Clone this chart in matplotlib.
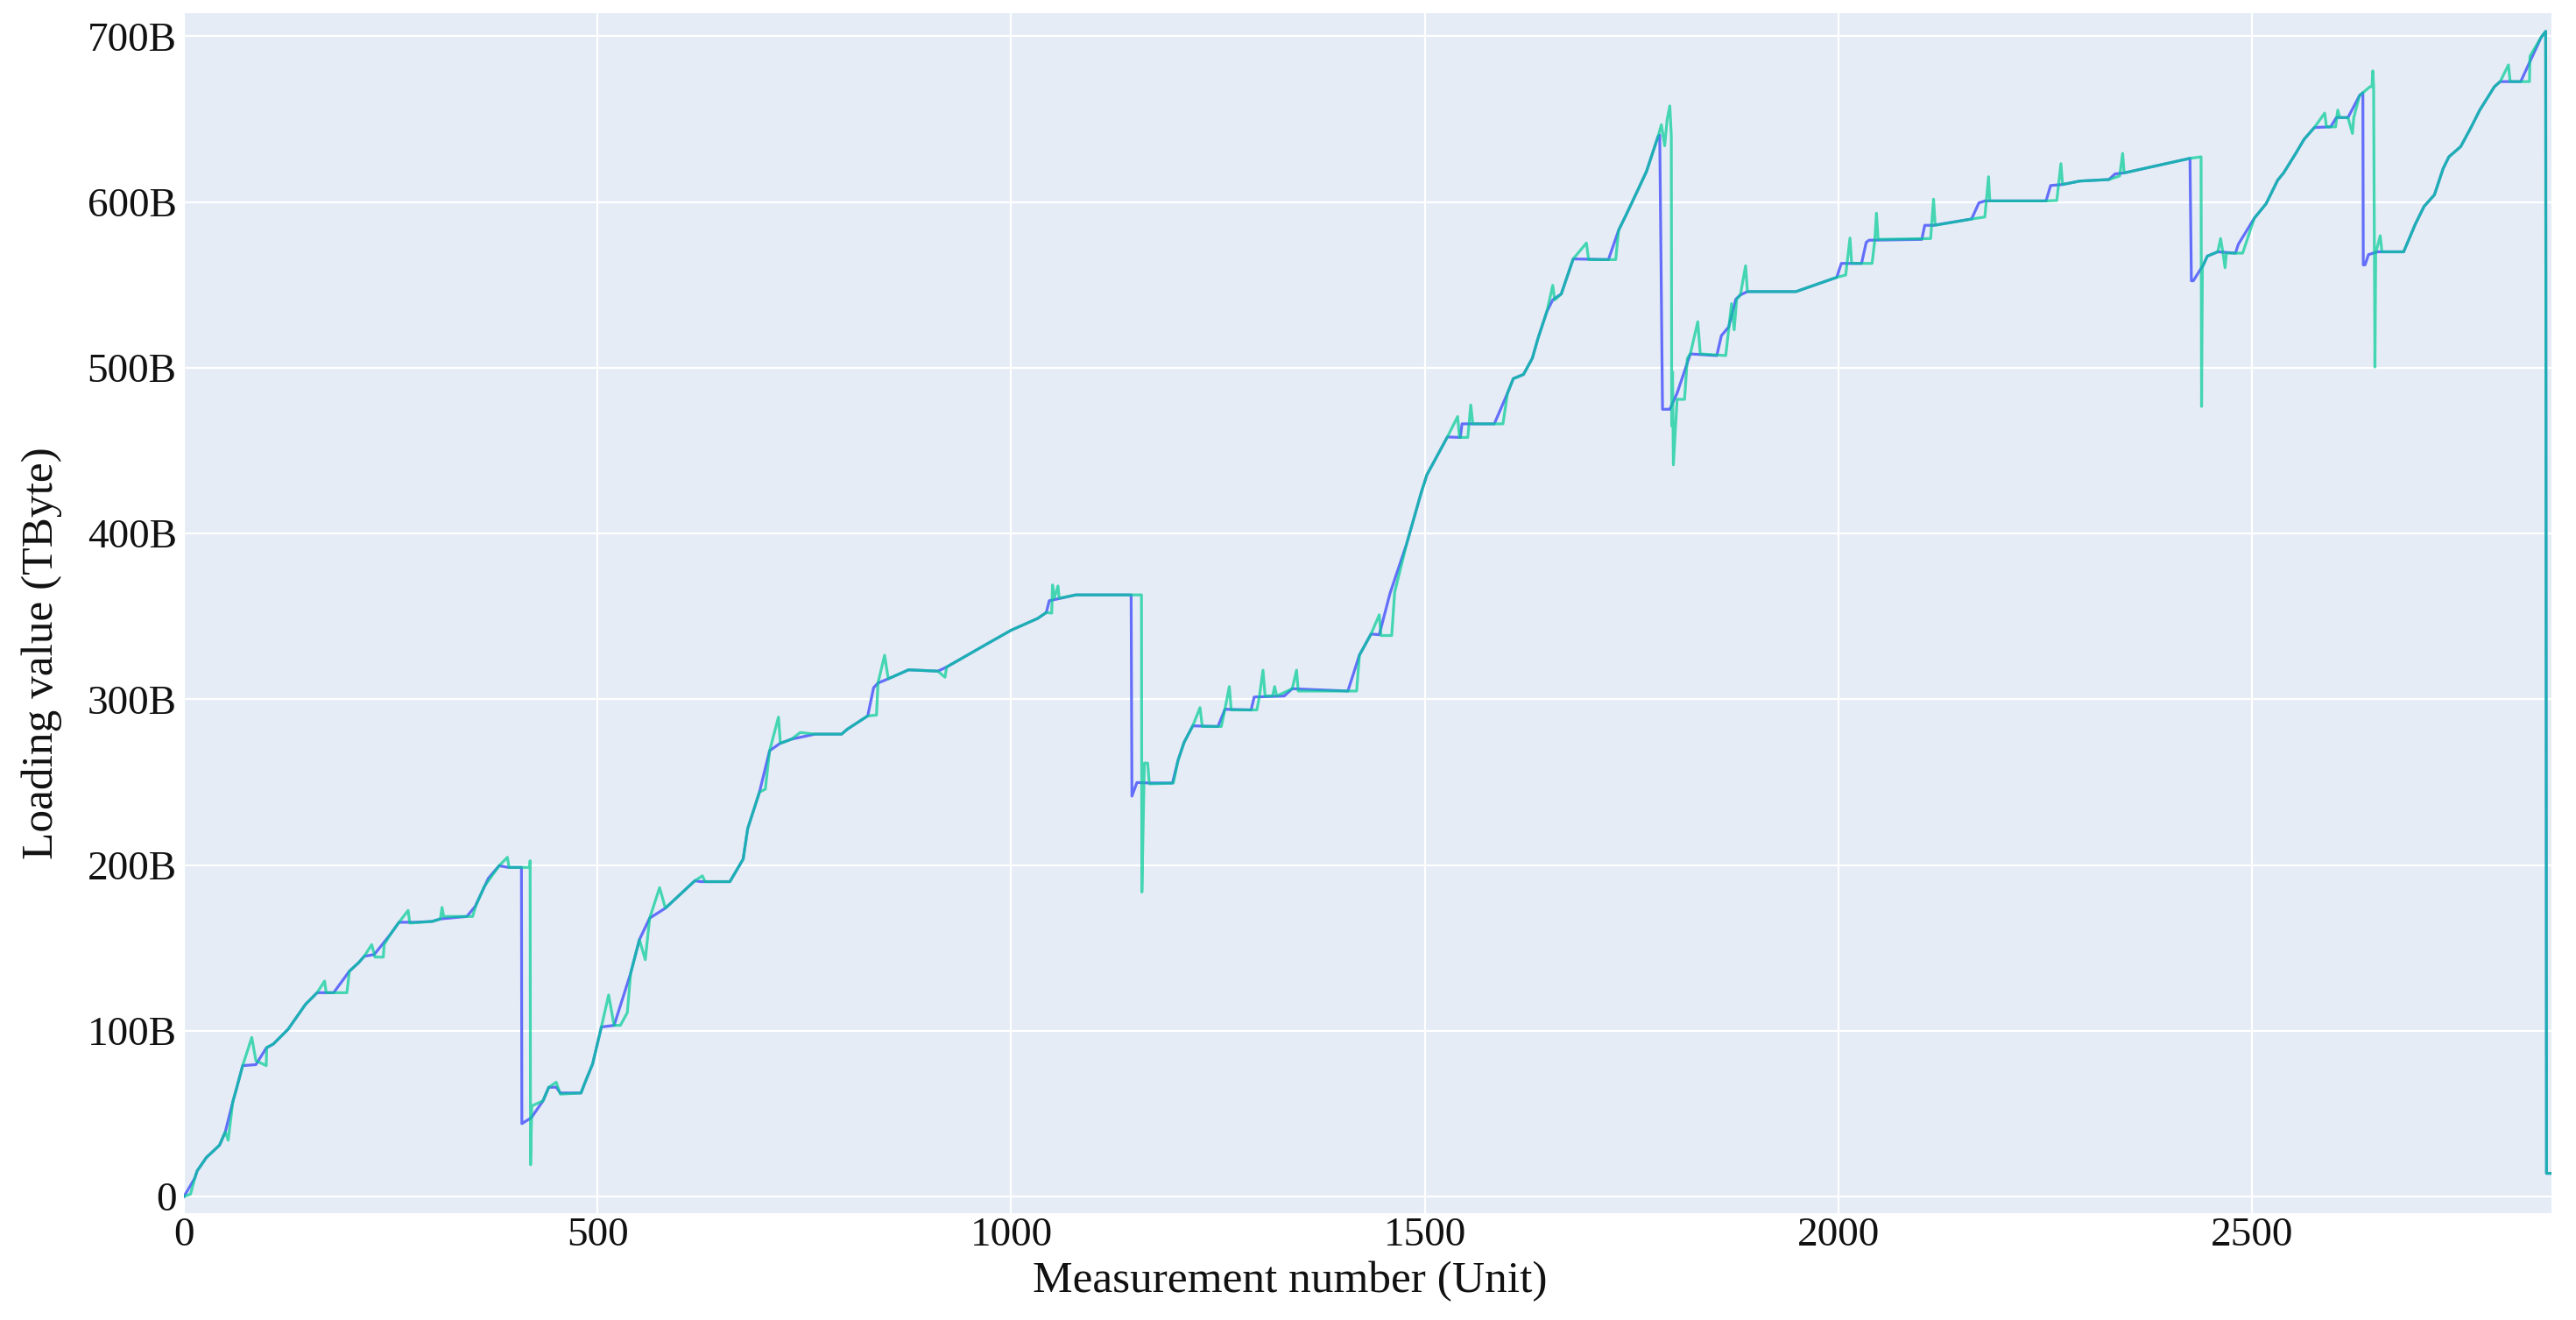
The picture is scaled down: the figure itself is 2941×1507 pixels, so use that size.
import matplotlib
matplotlib.use("Agg")
import matplotlib.pyplot as plt
from matplotlib.ticker import FuncFormatter

# ---- data (values in billions) ----
blue_x = [0, 13, 16, 27, 43, 50, 59, 64, 71, 87, 99.5, 108, 126, 147, 161, 181, 200, 211, 218, 230,
          250, 260, 280, 300, 310, 342, 352, 368, 381, 392, 408, 408.5, 420, 434, 441, 450, 455, 480,
          485, 494, 504.6, 520, 540, 550.6, 563, 582, 617.5, 625, 660, 667, 676, 681.5, 695.7, 708,
          720.5, 734.6, 763, 795, 802, 826.6, 833.7, 839, 851.4, 876, 911.5, 922, 971.7, 1000, 1032,
          1042.5, 1046, 1060, 1078, 1134.5, 1145, 1146, 1152, 1170, 1195, 1201.8, 1209, 1219.5, 1250,
          1258.4, 1290, 1293.8, 1330, 1339.8, 1407, 1421, 1435, 1445, 1458, 1478, 1495.5, 1502.5,
          1527.3, 1543, 1545, 1584, 1600, 1607, 1619.3, 1630, 1637, 1647.6, 1654.7, 1665, 1679.4,
          1722, 1734.3, 1743.1, 1757.3, 1768, 1782, 1784, 1787.4, 1796.2, 1805, 1821, 1853, 1858.5,
          1867.3, 1876, 1881.5, 1890, 1948.7, 1998, 2003.5, 2028, 2033.6, 2037, 2100.8, 2104.4, 2115,
          2161, 2169.8, 2177, 2251, 2256.5, 2270.7, 2292, 2327, 2334.4, 2345.4, 2425, 2426.7, 2429,
          2441, 2446, 2458.6, 2480, 2483.4, 2502.8, 2517, 2531, 2538.2, 2552.4, 2563, 2575.4, 2595,
          2602, 2616, 2630, 2634, 2634.5, 2636.6, 2640.8, 2651.5, 2683.3, 2697.5, 2708, 2720.5, 2731,
          2738, 2752.3, 2764.7, 2775.3, 2793, 2800, 2824.8, 2849.6, 2855, 2856, 2862]
blue_y = [0, 11, 15.5, 23.5, 31, 39, 57, 66, 79, 79.6, 89.6, 92, 101, 116, 123, 123, 136, 141, 145, 146,
          158.5, 165.5, 165.5, 166, 167.5, 169, 175, 192, 199.6, 198.6, 198.6, 44, 47.6, 57.7, 65.9,
          66, 62.5, 62.5, 69, 80, 102.3, 103.3, 134.7, 155, 168, 174, 190.5, 190, 190, 196, 203.6, 222,
          244, 269, 273.4, 276, 279, 279, 282, 290, 307, 309.8, 312.4, 317.8, 317, 319.5, 333.7, 341.7,
          348.8, 352.4, 359.5, 361, 363, 363, 363, 241.6, 249.8, 249.5, 249.5, 263.3, 274, 284, 283.6,
          294, 293.6, 301.4, 302, 306.4, 305, 326.7, 339.4, 339, 364, 393.7, 424.4, 435.4, 458.3, 458,
          466.2, 466.2, 484.7, 493.5, 496, 505.8, 518, 534, 541, 544.6, 565.7, 565.3, 583, 592, 607,
          618.5, 639.6, 640.5, 475, 475, 484.7, 508.4, 507.4, 519.4, 524.6, 541.4, 544, 546, 546,
          554.6, 563, 563, 575.7, 577, 577.5, 586, 586, 589.8, 599.5, 600.7, 600.7, 610, 610.6, 612.7,
          613.6, 617, 617.6, 626.4, 552.5, 552.5, 562, 567.4, 570, 569.2, 574.5, 590.3, 599, 613.2,
          617.6, 629, 637.9, 645, 645.4, 651, 651, 664.3, 666, 562.1, 562.1, 568.3, 570, 570, 586.8,
          597.4, 604.4, 620.2, 627.3, 633.5, 645, 655.5, 669.6, 672.7, 672.7, 699.5, 703, 14, 14]

teal_x = [0, 8, 13, 16, 27, 43, 50, 53.5, 59, 64, 71, 82, 87, 99.5, 100, 108, 126, 147, 161, 170, 172,
          197, 200, 211, 218, 227, 231, 241, 242, 250, 260, 271, 273, 300, 310, 312, 314, 349, 352.5,
          363, 381, 391, 393, 418, 418.5, 419, 420.5, 434, 441, 450, 455, 480, 485, 494, 504.6, 513.4,
          520, 527.6, 536, 540, 550.6, 557.7, 563, 575, 582, 617.5, 626.7, 630, 660, 667, 676, 681.5,
          695.7, 702.8, 708, 718.7, 721, 734.6, 745, 763, 795, 802, 826.6, 837.2, 839, 847, 851.4, 876,
          911.5, 920, 922, 971.7, 1000, 1032, 1042.5, 1049, 1050, 1052, 1056.6, 1058, 1078, 1157.5,
          1158, 1161, 1165, 1167, 1196, 1201.8, 1209, 1219.5, 1228.3, 1231, 1254, 1258.4, 1263.7, 1266,
          1297, 1300, 1304.4, 1307, 1316, 1318.5, 1321, 1339.8, 1345, 1347, 1417.6, 1421, 1435, 1445,
          1447, 1460, 1463.6, 1478, 1495.5, 1502.5, 1527.3, 1539.7, 1542, 1552, 1555.6, 1558, 1594.5,
          1600, 1607, 1619.3, 1630, 1637, 1647.6, 1654.7, 1657, 1665, 1679.4, 1695.4, 1698, 1730.8,
          1734.3, 1743.1, 1757.3, 1768, 1782, 1786, 1790, 1793, 1796.2, 1798, 1798.5, 1799.5, 1800.5,
          1805, 1814, 1817.4, 1821, 1830, 1833, 1863.8, 1870.8, 1874, 1877, 1881.5, 1887.8, 1890,
          1948.7, 1998, 2008.8, 2014, 2016, 2040.7, 2044, 2046, 2048, 2111.5, 2115, 2117, 2161, 2177,
          2181.5, 2183, 2251, 2264, 2269, 2271, 2292, 2327, 2340, 2343.6, 2345.4, 2425, 2438.4, 2439,
          2440, 2441, 2446, 2458.6, 2462, 2465, 2467.4, 2469, 2488.7, 2502.8, 2517, 2531, 2538.2,
          2552.4, 2563, 2575.4, 2587.8, 2590, 2601, 2603.7, 2606, 2616, 2621.4, 2623, 2630, 2642.6,
          2645, 2646, 2647, 2648.6, 2649.5, 2655, 2657, 2683.3, 2697.5, 2708, 2720.5, 2731, 2738,
          2752.3, 2764.7, 2775.3, 2793, 2800, 2810, 2812, 2835.4, 2836, 2849.6, 2855, 2856, 2862]
teal_y = [0, 1.5, 11, 15.5, 23.5, 31, 39, 34, 57, 66, 79, 96, 82, 79, 90, 92, 101, 116, 123, 130, 123,
          123, 136, 141, 145, 152, 144.5, 144.5, 152, 158.5, 165.5, 172.6, 165, 166, 167.5, 174.4, 169,
          169, 175, 187, 199.6, 204.7, 198.6, 198.6, 202.6, 19.2, 54.7, 57.7, 65.9, 69, 61.8, 62.5, 69,
          80, 102.3, 121.6, 103.3, 103.3, 111, 134.7, 155, 142.9, 168, 186.4, 174, 190.5, 193.5, 190,
          190, 196, 203.6, 222, 244, 245.8, 269, 289.3, 273.4, 276, 280, 279, 279, 282, 290, 290.5,
          309.8, 326.6, 312.4, 317.8, 317, 313.3, 319.5, 333.7, 341.7, 348.8, 352.4, 352, 369, 361,
          368.4, 361, 363, 363, 183.7, 261.5, 261.5, 249, 249.5, 263.3, 274, 284, 295, 283.6, 283.6, 294,
          307.7, 293.6, 293.6, 301.4, 317.6, 302, 302, 307.7, 302, 306.4, 317.6, 305, 305, 326.7, 339.4,
          351, 338.5, 338.5, 364.7, 393.7, 424.4, 435.4, 458.3, 470.6, 458, 458, 477.6, 466.2, 466.2,
          484.7, 493.5, 496, 505.8, 518, 534, 549.8, 541, 544.6, 565.7, 575.3, 565.3, 565.3, 583, 592,
          607, 618.5, 639.6, 646.7, 634, 650, 658, 640, 465, 497.5, 441.5, 481, 481, 505.8, 508.4, 527.8,
          508.4, 507.4, 538.7, 522.9, 541.4, 544, 561.6, 546, 546, 554.6, 556, 578.3, 563, 563, 577,
          593.3, 577.5, 578, 601.8, 586, 589.8, 591, 615.3, 600.7, 600.7, 601, 623.2, 610.6, 612.7,
          613.6, 615.8, 629.4, 617.6, 626.4, 627.3, 476.7, 560.4, 562, 567.4, 570, 578, 569, 560.4,
          569.2, 569.2, 590.3, 599, 613.2, 617.6, 629, 637.9, 645, 653.7, 645.4, 645.4, 655.5, 651, 651,
          641.4, 651, 664.3, 669.6, 669.6, 679.2, 669.6, 500.5, 569.2, 579.7, 570, 570, 586.8, 597.4,
          604.4, 620.2, 627.3, 633.5, 645, 655.5, 669.6, 672.7, 682.8, 672.7, 672.7, 688, 699.5, 703,
          14, 14]

y_ticks = [0, 100, 200, 300, 400, 500, 600, 700]
x_ticks = [0, 500, 1000, 1500, 2000, 2500]
x_title = "Measurement number (Unit)"
y_title = "Loading value (TByte)"

# ---- figure ----
plt.rcParams['font.family'] = ['Liberation Serif', 'DejaVu Serif']
fig = plt.figure(figsize=(29.41, 15.07), dpi=100)
ax = fig.add_axes([210 / 2941, 1 - 1385 / 1507, 2703 / 2941, 1370 / 1507])
ax.set_facecolor('#E5ECF6')
for s in ax.spines.values():
    s.set_visible(False)

ax.plot(blue_x, blue_y, color='#636EFA', lw=2.3, solid_joinstyle='round', zorder=3)
ax.plot(teal_x, teal_y, color='#00CC96', lw=2.3, alpha=0.7, solid_joinstyle='round', zorder=4)

ax.set_xlim(0, 2862)
ax.set_ylim(-10, 714)
ax.set_xticks(x_ticks)
ax.set_yticks(y_ticks)
ax.yaxis.set_major_formatter(FuncFormatter(lambda v, p: "0" if v == 0 else f"{int(v)}B"))
ax.grid(True, color='white', lw=1.6, zorder=0)
ax.set_axisbelow(True)
ax.tick_params(length=0, labelsize=34, colors='#111111')
ax.tick_params(axis='y', pad=6)
ax.tick_params(axis='x', pad=3)

ax.set_xlabel(x_title, fontsize=37, color='#111111')
ax.set_ylabel(y_title, fontsize=37, color='#111111')
ax.xaxis.set_label_coords(0.467, -0.040)
ax.yaxis.set_label_coords(-0.0514, 0.467)

fig.savefig("out.png", dpi=100, facecolor='white')
